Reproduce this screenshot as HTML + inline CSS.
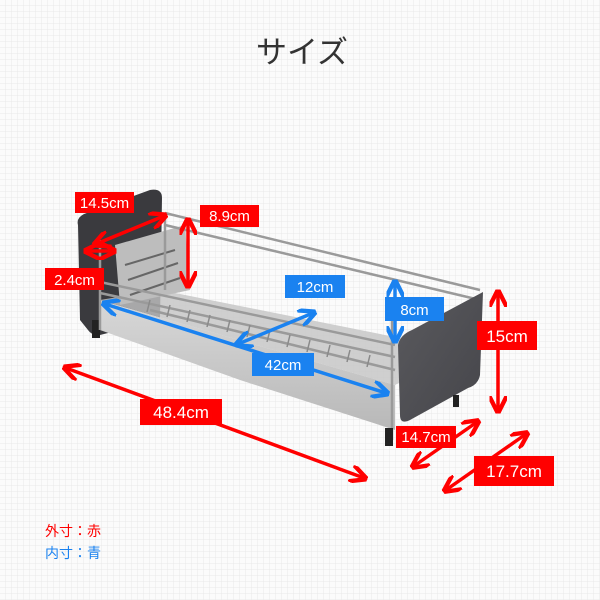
<!DOCTYPE html>
<html><head><meta charset="utf-8"><style>
body{margin:0;width:600px;height:600px;overflow:hidden;background:#fafafa;}
svg{display:block}
text{font-family:"Liberation Sans","Noto Sans CJK JP",sans-serif;}
</style></head><body>
<svg width="600" height="600" viewBox="0 0 600 600" xmlns="http://www.w3.org/2000/svg">
<defs>
<pattern id="g" width="6" height="6" patternUnits="userSpaceOnUse">
<rect width="6" height="6" fill="#fbfbfb"/><path d="M6 0V6M0 6H6" stroke="#e8e8e8" stroke-width="1"/>
</pattern>
<marker id="ar" viewBox="0 0 10 10" refX="8" refY="5" markerWidth="5" markerHeight="5" orient="auto-start-reverse"><path d="M0 0L10 5L0 10" fill="none" stroke="#f00" stroke-width="2.5"/></marker>
<marker id="ab" viewBox="0 0 10 10" refX="8" refY="5" markerWidth="5" markerHeight="5" orient="auto-start-reverse"><path d="M0 0L10 5L0 10" fill="none" stroke="#1a82f0" stroke-width="2.5"/></marker>
<linearGradient id="st" x1="0" y1="0" x2="0" y2="1"><stop offset="0" stop-color="#d8d8d8"/><stop offset="1" stop-color="#b8b8b8"/></linearGradient>
<linearGradient id="dk" x1="0" y1="0" x2="1" y2="1"><stop offset="0" stop-color="#5a5a5e"/><stop offset="1" stop-color="#45454a"/></linearGradient>
</defs>
<rect width="600" height="600" fill="url(#g)"/>
<text x="302" y="63" font-size="31" fill="#333" text-anchor="middle">サイズ</text>
<path d="M78 225 Q76 218 84 214 L150 190 Q162 188 162 198 L160 320 L100 335 Q92 336 88 330 L80 320 Z" fill="#3a3a3e"/>
<rect x="92" y="320" width="8" height="18" fill="#222"/>
<path d="M100 300 L395 385 L395 430 L240 380 L100 330 Z" fill="url(#st)"/>
<path d="M100 300 L160 290 L460 350 L395 385 Z" fill="#c4c4c4" opacity="0.8"/>
<path d="M115 245 L185 225 L190 290 L120 305 Z" fill="#bdbdbd"/>
<path d="M125 265L175 250M128 280L178 263M130 295L180 278" stroke="#666" stroke-width="2"/>
<g stroke="#9a9a9a" stroke-width="2.5" fill="none">
<path d="M165 213 L480 290"/><path d="M165 225 L480 300"/>
<path d="M100 282 L395 345"/><path d="M100 293 L395 357"/>
<path d="M100 240 L100 330"/><path d="M392 300 L392 440"/>
<path d="M165 213 L165 290"/><path d="M150 310 L395 370"/>
</g>
<g stroke="#8a8a8a" stroke-width="1.5">
<path d="M150 300l-3 12M170 305l-3 12M190 310l-3 12M210 315l-3 12M230 320l-3 12M250 325l-3 12M270 330l-3 12M290 335l-3 12M310 340l-3 12M330 345l-3 12M350 350l-3 12M370 355l-3 12"/>
</g>
<path d="M398 345 Q400 335 412 330 L483 292 L480 375 Q478 385 468 388 L410 420 Q400 425 400 415 Z" fill="url(#dk)"/>
<rect x="385" y="428" width="8" height="18" fill="#222"/><rect x="453" y="395" width="6" height="12" fill="#222"/>
<g stroke="#f00" stroke-width="3.5" fill="none" marker-start="url(#ar)" marker-end="url(#ar)">
<line x1="66" y1="368" x2="364" y2="478"/>
<line x1="498" y1="293" x2="498" y2="410"/>
<line x1="414" y1="466" x2="477" y2="422"/>
<line x1="446" y1="490" x2="526" y2="434"/>
<line x1="96" y1="244" x2="164" y2="216"/>
<line x1="87" y1="251" x2="113" y2="251"/>
<line x1="188" y1="221" x2="188" y2="285"/>
</g>
<g stroke="#1a82f0" stroke-width="3.5" fill="none" marker-start="url(#ab)" marker-end="url(#ab)">
<line x1="105" y1="304" x2="386" y2="393"/>
<line x1="238" y1="344" x2="313" y2="313"/>
<line x1="395" y1="283" x2="395" y2="340"/>
</g>
<g font-size="15" fill="#fff">
<rect x="75" y="192" width="59" height="21" fill="#f00"/><text x="104.5" y="208" text-anchor="middle">14.5cm</text>
<rect x="200" y="205" width="59" height="22" fill="#f00"/><text x="229.5" y="221" text-anchor="middle">8.9cm</text>
<rect x="45" y="268" width="59" height="22" fill="#f00"/><text x="74.5" y="285" text-anchor="middle">2.4cm</text>
<rect x="140" y="399" width="82" height="26" fill="#f00"/><text x="181" y="418" text-anchor="middle" font-size="17">48.4cm</text>
<rect x="477" y="321" width="60" height="29" fill="#f00"/><text x="507" y="342" text-anchor="middle" font-size="17">15cm</text>
<rect x="396" y="426" width="60" height="22" fill="#f00"/><text x="426" y="442" text-anchor="middle">14.7cm</text>
<rect x="474" y="456" width="80" height="30" fill="#f00"/><text x="514" y="477" text-anchor="middle" font-size="17">17.7cm</text>
<rect x="285" y="275" width="60" height="23" fill="#1a82f0"/><text x="315" y="292" text-anchor="middle">12cm</text>
<rect x="385" y="297" width="59" height="24" fill="#1a82f0"/><text x="414.5" y="315" text-anchor="middle">8cm</text>
<rect x="252" y="353" width="62" height="23" fill="#1a82f0"/><text x="283" y="370" text-anchor="middle">42cm</text>
</g>
<text x="45" y="536" font-size="14" fill="#f00">外寸：赤</text>
<text x="45" y="558" font-size="14" fill="#1a82f0">内寸：青</text>
</svg>
</body></html>
